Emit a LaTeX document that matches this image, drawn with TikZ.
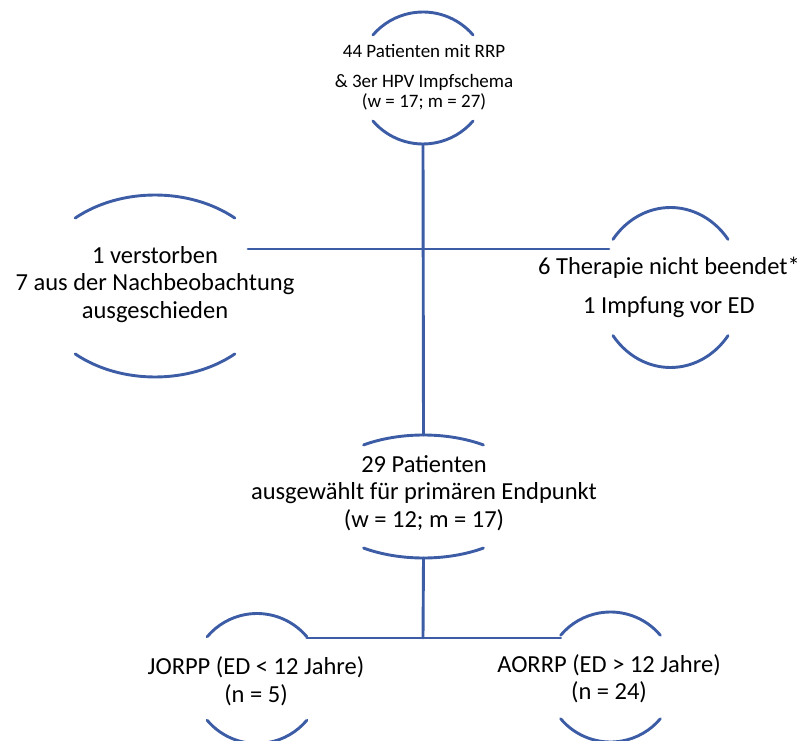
\documentclass[tikz,border=0pt]{standalone}
\usepackage{fontspec}
\setmainfont{Carlito}
\usetikzlibrary{shapes.geometric}
\definecolor{qqlinie}{rgb}{0.235,0.36,0.65}

\begin{document}
\begin{tikzpicture}[line cap=round,line join=round,x=1pt,y=1pt,
    bogen/.style={line width=2.9pt,color=qqlinie},
    verbinder/.style={line width=2.9pt,color=qqlinie},
    rahmen/.style={ellipse,inner sep=0pt,outer sep=0pt},
    gross/.style={align=center,font=\fontsize{24.5}{27.5}\selectfont},
    klein/.style={align=center,font=\fontsize{19}{20}\selectfont}]
    \useasboundingbox (0,0) rectangle (803,740);
    \clip (0,0) rectangle (803,740);
    % unsichtbare Kreise und Ellipsen
    \node[rahmen,minimum width=132,minimum height=132] (kStart) at (423,662) {};
    \node[rahmen,minimum width=240,minimum height=182] (kLinks) at (155,454) {};
    \node[rahmen,minimum width=144,minimum height=160] (kRechts) at (670.5,452.5) {};
    \node[rahmen,minimum width=220,minimum height=123] (kMitte) at (423.5,243.5) {};
    \node[rahmen,minimum width=130,minimum height=130] (kJorpp) at (257,61.5) {};
    \node[rahmen,minimum width=130,minimum height=130] (kAorrp) at (610.5,63) {};
    % Boegen oben und unten
    \draw [bogen] (kStart.center) ++(40.7:66) arc[start angle=40.7,end angle=139.3,radius=66];
    \draw [bogen] (kStart.center) ++(220.7:66) arc[start angle=220.7,end angle=319.3,radius=66];
    \draw [bogen] (kLinks.center) ++(48.3:120 and 91) arc[start angle=48.3,end angle=131.7,x radius=120,y radius=91];
    \draw [bogen] (kLinks.center) ++(228.3:120 and 91) arc[start angle=228.3,end angle=311.7,x radius=120,y radius=91];
    \draw [bogen] (kRechts.center) ++(37:72 and 80) arc[start angle=37,end angle=143,x radius=72,y radius=80];
    \draw [bogen] (kRechts.center) ++(217:72 and 80) arc[start angle=217,end angle=323,x radius=72,y radius=80];
    \draw [bogen] (kMitte.center) ++(57:110 and 61.5) arc[start angle=57,end angle=123,x radius=110,y radius=61.5];
    \draw [bogen] (kMitte.center) ++(237:110 and 61.5) arc[start angle=237,end angle=303,x radius=110,y radius=61.5];
    \draw [bogen] (kJorpp.center) ++(40:65) arc[start angle=40,end angle=140,radius=65];
    \draw [bogen] (kJorpp.center) ++(220:65) arc[start angle=220,end angle=320,radius=65];
    \draw [bogen] (kAorrp.center) ++(40:65) arc[start angle=40,end angle=140,radius=65];
    \draw [bogen] (kAorrp.center) ++(220:65) arc[start angle=220,end angle=320,radius=65];
    % Texte
    \node[klein] (tStart) at (424,663) {44 Patienten mit RRP\\[10pt] \& 3er HPV Impfschema\\ (w = 17; m = 27)};
    \node[gross] (tLinks) at (155,455.5) {1 verstorben\\ 7 aus der Nachbeobachtung\\ ausgeschieden};
    \node[gross] (tRechts) at (669,452.5) {6 Therapie nicht beendet*\\[12pt] 1 Impfung vor ED};
    \node[gross] (tMitte) at (424,247) {29 Patienten\\ ausgewählt für primären Endpunkt\\ (w = 12; m = 17)};
    \node[gross] (tJorpp) at (256,59) {JORPP (ED < 12 Jahre)\\ (n = 5)};
    \node[gross] (tAorrp) at (609,61.5) {AORRP (ED > 12 Jahre)\\ (n = 24)};
    % Verbindungen
    \coordinate (kreuz) at (423,491);
    \coordinate (links) at (248,491);
    \coordinate (gabel) at (423,102);
    \draw [verbinder] (kStart.south) -- (kMitte.north);
    \draw [verbinder] (links) -- (kreuz -| kRechts.146);
    \draw [verbinder] (kMitte.south) -- (gabel);
    \draw [verbinder] (gabel -| kJorpp.40) -- (gabel -| kAorrp.140);
\end{tikzpicture}
\end{document}
